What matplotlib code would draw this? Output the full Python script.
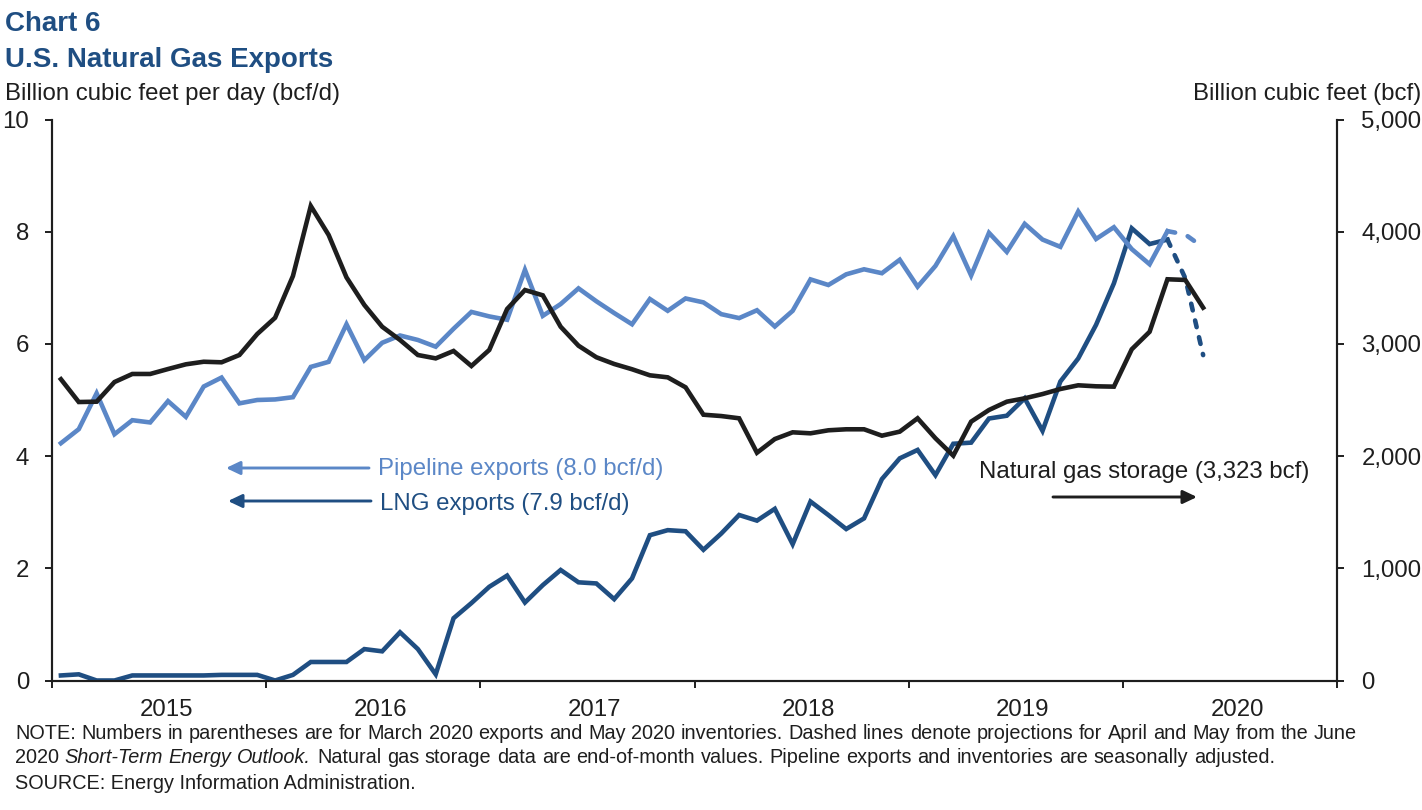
import matplotlib
matplotlib.use("Agg")
import matplotlib.pyplot as plt
import numpy as np

plt.rcParams['font.family'] = ['Liberation Sans', 'DejaVu Sans']

# monthly, Jan 2015 to May 2020. last two points are projections
pipeline = [4.23, 4.48, 5.12, 4.39, 4.64, 4.60, 4.98, 4.70, 5.24, 5.40, 4.94, 5.00, 5.01,
            5.05, 5.59, 5.68, 6.35, 5.71, 6.02, 6.15, 6.07, 5.95, 6.27, 6.57, 6.49, 6.43,
            7.32, 6.50, 6.71, 6.99, 6.76, 6.55, 6.35, 6.80, 6.59, 6.81, 6.74, 6.53, 6.46,
            6.60, 6.31, 6.59, 7.15, 7.05, 7.24, 7.33, 7.26, 7.50, 7.02, 7.39, 7.92, 7.22,
            7.98, 7.64, 8.14, 7.86, 7.73, 8.36, 7.87, 8.08, 7.69, 7.42, 8.01, 7.95, 7.72]
lng = [0.09, 0.11, 0.0, 0.0, 0.09, 0.09, 0.09, 0.09, 0.09, 0.10, 0.10, 0.10, 0.0,
       0.10, 0.33, 0.33, 0.33, 0.56, 0.52, 0.86, 0.56, 0.11, 1.11, 1.38, 1.67, 1.87,
       1.39, 1.70, 1.97, 1.75, 1.73, 1.45, 1.82, 2.59, 2.68, 2.66, 2.33, 2.62, 2.95,
       2.85, 3.06, 2.43, 3.19, 2.95, 2.70, 2.89, 3.59, 3.96, 4.11, 3.66, 4.22, 4.24,
       4.67, 4.72, 5.03, 4.45, 5.33, 5.74, 6.34, 7.08, 8.06, 7.78, 7.86, 7.17, 5.80]
storage = [2685, 2482, 2485, 2660, 2732, 2732, 2776, 2818, 2841, 2836, 2901, 3088, 3233,
           3605, 4229, 3971, 3593, 3347, 3153, 3035, 2901, 2871, 2937, 2803, 2946, 3311,
           3480, 3433, 3153, 2984, 2881, 2821, 2774, 2720, 2702, 2613, 2369, 2357, 2337,
           2030, 2152, 2212, 2203, 2230, 2239, 2239, 2182, 2218, 2337, 2159, 2004, 2307,
           2411, 2485, 2515, 2553, 2598, 2631, 2622, 2619, 2952, 3108, 3576, 3570, 3323]
years = ['2015', '2016', '2017', '2018', '2019', '2020']
left_ticks = [0, 2, 4, 6, 8, 10]
right_ticks = [0, 1000, 2000, 3000, 4000, 5000]

W, H = 1422, 810
LIGHT = '#5B87C7'
DARK = '#1F4E82'
BLACK = '#1E1E1E'
LW = 3.3

fig = plt.figure(figsize=(W / 100, H / 100), dpi=100)
ax = fig.add_axes([52 / W, 1 - 680.5 / H, (1337 - 52) / W, (680.5 - 119.5) / H])
ax2 = ax.twinx()

x = np.arange(len(pipeline)) + 0.5
n = 63  # solid up to and including index 62

ax.plot(x[:n], lng[:n], color=DARK, lw=LW, solid_joinstyle='miter', zorder=3)
ax.plot(x[n - 1:], lng[n - 1:], color=DARK, lw=LW, dashes=(1.5, 2.25), dash_capstyle='round', zorder=3)
ax.plot(x[:n], pipeline[:n], color=LIGHT, lw=LW, solid_joinstyle='miter', zorder=4)
ax.plot(x[n - 1:], pipeline[n - 1:], color=LIGHT, lw=LW, dashes=(1.7, 2.9), dash_capstyle='round', zorder=4)
ax2.plot(x, storage, color=BLACK, lw=LW, solid_joinstyle='miter')

ax.set_xlim(0, 72)
ax.set_ylim(0, 10)
ax2.set_ylim(0, 5000)

ax.set_yticks(left_ticks)
ax2.set_yticks(right_ticks)
ax2.set_yticklabels([f'{v:,}' for v in right_ticks])
ax.set_xticks(range(0, 73, 12))
ax.set_xticklabels([])
# year labels sit a bit right of the middle of each year
ax.set_xticks(np.arange(6.4, 72, 12), minor=True)
ax.set_xticklabels(years, minor=True)

FS = 17.3
ax.tick_params(axis='y', direction='out', length=5, width=1.4, color=BLACK, pad=11.5,
               labelsize=FS, labelcolor=BLACK)
ax2.tick_params(axis='y', direction='out', length=5, width=1.4, color=BLACK, pad=12.5,
                labelsize=FS, labelcolor=BLACK)
ax.tick_params(axis='x', which='major', direction='out', length=5, width=1.4, color=BLACK)
ax.tick_params(axis='x', which='minor', length=0, pad=13, labelsize=FS, labelcolor=BLACK)

for a in (ax, ax2):
    a.spines['top'].set_visible(False)
    for s in ('left', 'right', 'bottom'):
        a.spines[s].set_linewidth(1.5)
        a.spines[s].set_color(BLACK)


def px_text(px, py, s, **kw):
    # px, py = pixels from the top left of the figure
    kw.setdefault('va', 'baseline')
    kw.setdefault('fontsize', FS)
    kw.setdefault('color', BLACK)
    return fig.text(px / W, 1 - py / H, s, **kw)


def arrow(x0, x1, py, color):
    ax.annotate('', xy=(x1 / W, 1 - py / H), xytext=(x0 / W, 1 - py / H),
                xycoords='figure fraction', textcoords='figure fraction',
                arrowprops=dict(arrowstyle='-|>,head_length=0.42,head_width=0.2', color=color,
                                lw=2.1, shrinkA=0, shrinkB=0, mutation_scale=20))


def justified(x0, x1, py, words, fontsize):
    # draw words one by one so the line runs from x0 to x1, like the justified original
    rend = fig.canvas.get_renderer()
    items = []
    for w, style in words:
        t = px_text(x0, py, w, fontsize=fontsize, style=style)
        items.append((t, t.get_window_extent(rend).width))
    gap = (x1 - x0 - sum(w for _, w in items)) / (len(items) - 1)
    cur = x0
    for t, w in items:
        t.set_x(cur / W)
        cur += w + gap


px_text(5, 31, 'Chart 6', fontsize=20, fontweight='bold', color=DARK)
px_text(5, 67, 'U.S. Natural Gas Exports', fontsize=20, fontweight='bold', color=DARK)
px_text(5, 100, 'Billion cubic feet per day (bcf/d)')
px_text(1421, 100, 'Billion cubic feet (bcf)', ha='right')

px_text(378, 475, 'Pipeline exports (8.0 bcf/d)', color=LIGHT)
px_text(380, 510, 'LNG exports (7.9 bcf/d)', color=DARK)
px_text(979, 478, 'Natural gas storage (3,323 bcf)')
arrow(369, 226, 468, LIGHT)
arrow(371, 228, 501, DARK)
arrow(1053, 1197, 497, BLACK)

NOTE_FS = 14.3
line1 = 'NOTE: Numbers in parentheses are for March 2020 exports and May 2020 inventories. Dashed lines denote projections for April and May from the June'
line2a = '2020'
line2b = 'Short-Term Energy Outlook'
line2c = 'Natural gas storage data are end-of-month values. Pipeline exports and inventories are seasonally adjusted.'
line3 = 'SOURCE: Energy Information Administration.'

justified(15, 1357, 739, [(w, 'normal') for w in line1.split()], NOTE_FS)
words2 = [(line2a, 'normal')] + [(w, 'italic') for w in line2b.split()]
words2[-1] = (words2[-1][0] + '.', 'italic')
words2 += [(w, 'normal') for w in line2c.split()]
justified(15, 1275, 763, words2, NOTE_FS)
px_text(15, 789, line3, fontsize=NOTE_FS)

fig.savefig('out.png', dpi=100)
